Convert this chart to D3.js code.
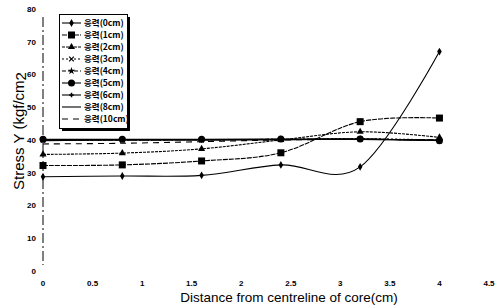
<!DOCTYPE html>
<html>
<head>
<meta charset="utf-8">
<script src="https://cdn.jsdelivr.net/npm/d3@7"></script>
<style>
  body { margin: 0; background: #fff; }
  svg { display: block; }
  text { font-family: "Liberation Sans", Arial, sans-serif; fill: #000; }
</style>
</head>
<body>
<div id="chart"></div>
<script>
// Chart data
//

var distances = [0, 0.8, 1.6, 2.4, 3.2, 4.0];
var xTicks = [0, 0.5, 1, 1.5, 2, 2.5, 3, 3.5, 4, 4.5];
var yTicks = [0, 10, 20, 30, 40, 50, 60, 70, 80];

var seriesNames = ["응력(0cm)", "응력(1cm)", "응력(2cm)", "응력(3cm)", "응력(4cm)",
                   "응력(5cm)", "응력(6cm)", "응력(8cm)", "응력(10cm)"];

var stress0 = [28.8, 29.0, 29.2, 32.4, 31.8, 67.0];
var stress1 = [32.2, 32.4, 33.6, 36.1, 45.6, 46.7];
var stress2 = [35.6, 36.0, 37.3, 40.0, 42.5, 40.8];
var stress3 = [40.0, 40.0, 40.1, 40.2, 40.4, 40.0];
var stress4 = [40.0, 40.0, 40.1, 40.2, 40.3, 39.9];
var stress5 = [40.2, 40.2, 40.2, 40.3, 40.3, 39.8];
var stress6 = [40.0, 40.0, 40.0, 40.1, 40.2, 39.9];
var stress8 = [39.8, 40.0, 40.0, 40.1, 40.2, 39.9];
var stress10 = [38.8, 39.0, 39.5, 40.0, 40.2, 40.0];

// marker / dash style per series
var styles = [
  { marker: "diamond", dash: null },
  { marker: "square", dash: "5,1" },
  { marker: "triangle", dash: "3,1" },
  { marker: "cross", dash: "2,2" },
  { marker: "star", dash: "4,2" },
  { marker: "circle", dash: null },
  { marker: "plus", dash: null },
  { marker: "none", dash: null },
  { marker: "none", dash: "6,5" }
];

var allValues = [stress0, stress1, stress2, stress3, stress4, stress5, stress6, stress8, stress10];

var width = 495, height = 308;

var svg = d3.select("#chart").append("svg")
  .attr("width", width)
  .attr("height", height);

var x = d3.scaleLinear().domain([0, 4.5]).range([43, 489]);
var y = d3.scaleLinear().domain([0, 80]).range([271, 9]);

// y axis: dashed vertical line and labels only
svg.append("line")
  .attr("x1", x(0)).attr("x2", x(0))
  .attr("y1", y(80) + 8).attr("y2", y(0) - 6)
  .attr("stroke", "#000")
  .attr("stroke-width", 1)
  .attr("stroke-dasharray", "10,3,2,3");

svg.append("g").selectAll("text")
  .data(yTicks)
  .enter()
  .append("text")
  .attr("x", 36)
  .attr("y", function(d) { return y(d); })
  .attr("dy", "0.35em")
  .attr("text-anchor", "end")
  .style("font-size", "8px")
  .style("font-weight", "bold")
  .text(function(d) { return d; });

// x labels, no axis line
svg.append("g").selectAll("text")
  .data(xTicks)
  .enter()
  .append("text")
  .attr("x", function(d) { return x(d); })
  .attr("y", 286)
  .attr("text-anchor", "middle")
  .style("font-size", "8px")
  .style("font-weight", "bold")
  .text(function(d) { return d; });

// axis titles
svg.append("text")
  .attr("x", 289)
  .attr("y", 302)
  .attr("text-anchor", "middle")
  .style("font-size", "13.5px")
  .text("Distance from centreline of core(cm)");

var ytitle = svg.append("text")
  .attr("transform", "translate(24,131) rotate(-90)")
  .attr("text-anchor", "middle")
  .style("font-size", "15px");
ytitle.append("tspan").text("Stress Y (kgf/cm");
ytitle.append("tspan").attr("dy", 2).text("2");

function drawMarker(g, type, cx, cy) {
  if (type === "diamond") {
    g.append("path").attr("d", d3.symbol(d3.symbolDiamond, 18)())
      .attr("transform", "translate(" + cx + "," + cy + ")").attr("fill", "#000");
  } else if (type === "square") {
    g.append("rect").attr("x", cx - 3.5).attr("y", cy - 3.5)
      .attr("width", 7).attr("height", 7).attr("fill", "#000");
  } else if (type === "triangle") {
    g.append("path").attr("d", d3.symbol(d3.symbolTriangle, 22)())
      .attr("transform", "translate(" + cx + "," + cy + ")").attr("fill", "#000");
  } else if (type === "circle") {
    g.append("circle").attr("cx", cx).attr("cy", cy).attr("r", 3.5).attr("fill", "#000");
  } else if (type === "cross") {
    g.append("path").attr("d", d3.symbol(d3.symbolX, 16)())
      .attr("transform", "translate(" + cx + "," + cy + ")")
      .attr("fill", "none").attr("stroke", "#000").attr("stroke-width", 1.2);
  } else if (type === "star") {
    g.append("path").attr("d", d3.symbol(d3.symbolStar, 18)())
      .attr("transform", "translate(" + cx + "," + cy + ")").attr("fill", "#000");
  } else if (type === "plus") {
    g.append("path").attr("d", d3.symbol(d3.symbolCross, 12)())
      .attr("transform", "translate(" + cx + "," + cy + ")").attr("fill", "#000");
  }
}

// series lines, smoothed like the spreadsheet
var line = d3.line()
  .x(function(d, i) { return x(distances[i]); })
  .y(function(d) { return y(d); })
  .curve(d3.curveCardinal.tension(0));

var plot = svg.append("g");
// draw from the back so the low series stay on top
for (var s = allValues.length - 1; s >= 0; s--) {
  var vals = allValues[s];
  plot.append("path")
    .attr("d", line(vals))
    .attr("fill", "none")
    .attr("stroke", "#000")
    .attr("stroke-width", 1.1)
    .attr("stroke-dasharray", styles[s].dash);
  var mg = plot.append("g");
  vals.forEach(function(v, i) {
    drawMarker(mg, styles[s].marker, x(distances[i]), y(v));
  });
}

// legend
var lg = svg.append("g");
lg.append("rect")
  .attr("x", 62).attr("y", 17)
  .attr("width", 68).attr("height", 114)
  .attr("fill", "#000");
lg.append("rect")
  .attr("x", 59.5).attr("y", 14.5)
  .attr("width", 68).attr("height", 114)
  .attr("fill", "#fff")
  .attr("stroke", "#000")
  .attr("stroke-width", 1);

seriesNames.forEach(function(name, i) {
  var ly = 23 + i * 12;
  lg.append("line")
    .attr("x1", 62).attr("x2", 81)
    .attr("y1", ly).attr("y2", ly)
    .attr("stroke", "#000")
    .attr("stroke-width", 1.1)
    .attr("stroke-dasharray", styles[i].dash);
  drawMarker(lg, styles[i].marker, 71.5, ly);
  lg.append("text")
    .attr("x", 84)
    .attr("y", ly)
    .attr("dy", "0.35em")
    .style("font-size", "8.5px")
    .style("font-weight", "bold")
    .style("font-family", "'Noto Sans CJK KR', sans-serif")
    .text(name);
});
</script>
</body>
</html>
